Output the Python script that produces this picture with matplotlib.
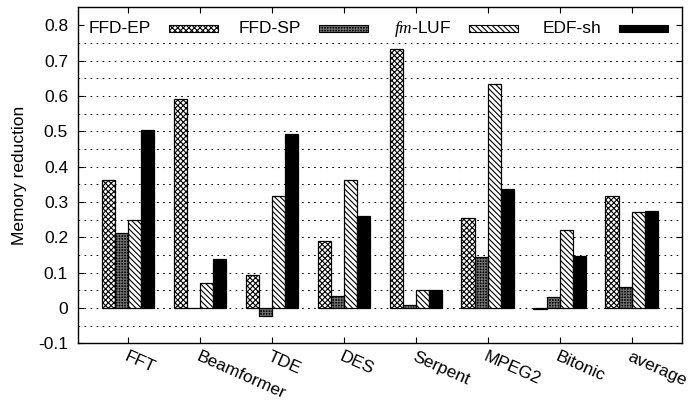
import numpy as np
import matplotlib
matplotlib.use('Agg')
import matplotlib.pyplot as plt
from matplotlib.patches import Rectangle

# data
benchmarks = ['FFT', 'Beamformer', 'TDE', 'DES', 'Serpent', 'MPEG2', 'Bitonic', 'average']
ffd_ep = [0.362, 0.590, 0.094, 0.189, 0.734, 0.255, -0.002, 0.317]
ffd_sp = [0.212, 0.001, -0.024, 0.033, 0.009, 0.145, 0.032, 0.060]
fm_luf = [0.250, 0.071, 0.316, 0.363, 0.051, 0.634, 0.220, 0.273]
edf_sh = [0.505, 0.139, 0.492, 0.259, 0.051, 0.338, 0.147, 0.275]
series_names = ['FFD-EP', 'FFD-SP', r'$fm$-LUF', 'EDF-sh']
ytick_labels = ['-0.1', '0', '0.1', '0.2', '0.3', '0.4', '0.5', '0.6', '0.7', '0.8']

plt.rcParams['font.family'] = ['Liberation Sans', 'DejaVu Sans']
plt.rcParams['mathtext.fontset'] = 'custom'
plt.rcParams['mathtext.it'] = 'Liberation Serif:italic'
plt.rcParams['axes.unicode_minus'] = False
plt.rcParams['hatch.linewidth'] = 0.8
FS = 12.5

fig = plt.figure(figsize=(6.94, 4.03), dpi=100)
ax = fig.add_axes([0.112, 0.148, 0.8707, 0.834])

W = 694 * 0.8707  # axes width in px
H = 403 * 0.834

# (face, hatch, hatch colour)
styles = [('white', 'xxxxxx', 'black'),
          ('black', '++++++', '#707070'),
          ('white', '\\\\\\\\\\\\', 'black'),
          ('black', None, 'black')]

x = np.arange(len(benchmarks))
bw = 0.1826
all_vals = [ffd_ep, ffd_sp, fm_luf, edf_sh]
for i, (vals, (fc, ht, hc)) in enumerate(zip(all_vals, styles)):
    xi = x + (i - 1.5) * bw
    ax.bar(xi, vals, bw, facecolor=fc, hatch=ht, edgecolor=hc, linewidth=0,
           zorder=3)
    ax.bar(xi, vals, bw, fill=False, edgecolor='black', linewidth=0.9,
           zorder=4)

# dotted grid (the key covers the 0.8 line)
for g in np.arange(-0.05, 0.76, 0.05):
    ax.axhline(g, color='black', lw=0.75, dashes=(1.6, 4.2), zorder=1)

ax.set_xlim(-0.7, 7.7)
ax.set_ylim(-0.1, 0.851)
ax.set_yticks(np.arange(-0.1, 0.81, 0.1))
ax.set_yticklabels(ytick_labels, fontsize=FS)
ax.set_xticks(x)
ax.set_xticklabels(benchmarks, fontsize=FS, rotation=-24, ha='left',
                   va='top', rotation_mode='anchor')
ax.tick_params(direction='in', length=4, width=0.8, top=True, right=True)
ax.tick_params(axis='x', pad=4)
ax.tick_params(axis='y', pad=7)
for s in ax.spines.values():
    s.set_linewidth(1.0)
ax.set_ylabel('Memory reduction', fontsize=FS, labelpad=8)

# gnuplot-style key: right-justified text followed by the sample
ky = 1 - 21.7 / H
for i, (name, (fc, ht, hc)) in enumerate(zip(series_names, styles)):
    sx = (169 + 150 * i - 77.7) / W
    ax.add_patch(Rectangle((sx, ky - 3.5 / H), 49 / W, 7 / H,
                           transform=ax.transAxes, facecolor=fc, hatch=ht,
                           edgecolor=hc, linewidth=0, zorder=5))
    ax.add_patch(Rectangle((sx, ky - 3.5 / H), 49 / W, 7 / H,
                           transform=ax.transAxes, fill=False,
                           edgecolor='black', linewidth=0.8, zorder=6))
    ax.text(sx - 18 / W, ky, name, transform=ax.transAxes, ha='right',
            va='center', fontsize=FS, zorder=5)

fig.savefig('out.png', dpi=100)
